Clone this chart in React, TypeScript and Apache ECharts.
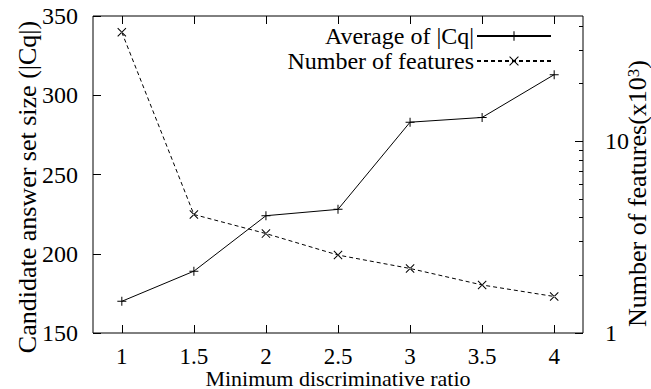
import React, { useEffect, useRef } from "react";
import * as echarts from "echarts";

const ratios = [1, 1.5, 2, 2.5, 3, 3.5, 4];
const avgCq = [170, 189, 224, 228, 283, 286, 313];
const numFeatures = [37, 4.15, 3.3, 2.55, 2.17, 1.78, 1.55];
const xTickValues = [1, 1.5, 2, 2.5, 3, 3.5, 4];
const rightMajorTicks = [1, 10];
const rightMinorTicks = [2, 3, 4, 5, 6, 7, 8, 9, 20, 30, 40];

const FONT = "Liberation Serif";
const PLUS = "path://M0,4H9V5H0Z M4,0H5V9H4Z";
const CROSS = "path://M0,0.7L0.7,0L9,8.3L8.3,9Z M9,0.7L8.3,0L0,8.3L0.7,9Z";

export default function App() {
  const ref = useRef<HTMLDivElement>(null);
  useEffect(() => {
    if (!ref.current) return;
    const chart = echarts.init(ref.current, null, { renderer: "svg" });
    const black = "#000";
    const lbl = { color: black, fontFamily: FONT, fontSize: 24 };
    const nameLbl = { color: black, fontFamily: FONT, fontSize: 26, lineHeight: 24 };
    chart.setOption({
      animation: false,
      backgroundColor: "#fff",
      textStyle: { fontFamily: FONT },
      grid: {
        left: 93,
        right: 68,
        top: 16,
        bottom: 56,
        show: true,
        containLabel: false,
        outerBoundsMode: "none",
        borderColor: black,
        borderWidth: 1,
        backgroundColor: "transparent",
      },
      legend: {
        right: 94,
        top: 19,
        orient: "vertical",
        align: "right",
        itemWidth: 74,
        itemHeight: 12,
        itemGap: 1,
        textStyle: { ...lbl, padding: [0, -2, 0, 0] },
        data: ["Average of |Cq|", "Number of features"],
      },
      xAxis: [
        {
          type: "value",
          min: 0.8,
          max: 4.2,
          position: "bottom",
          name: "Minimum discriminative ratio",
          nameLocation: "middle",
          nameGap: 35,
          nameMoveOverlap: false,
          nameTextStyle: { ...lbl, fontSize: 22, lineHeight: 21 },
          axisLine: { show: false },
          axisTick: { inside: true, length: 8, lineStyle: { color: black }, customValues: xTickValues },
          axisLabel: { ...lbl, fontSize: 23, lineHeight: 22, margin: 12, customValues: xTickValues },
          splitLine: { show: false },
        },
        {
          type: "value",
          min: 0.8,
          max: 4.2,
          position: "top",
          axisLine: { show: false },
          axisTick: { inside: true, length: 8, lineStyle: { color: black }, customValues: xTickValues },
          axisLabel: { show: false },
          splitLine: { show: false },
        },
      ],
      yAxis: [
        {
          type: "value",
          min: 150,
          max: 350,
          interval: 50,
          position: "left",
          name: "Candidate answer set size (|Cq|)",
          nameLocation: "middle",
          nameGap: 54,
          nameMoveOverlap: false,
          nameTextStyle: { ...nameLbl, padding: [0, 25, 0, 0] },
          axisLine: { show: false },
          axisTick: { inside: true, length: 8, lineStyle: { color: black } },
          axisLabel: { ...lbl, margin: 15 },
          splitLine: { show: false },
        },
        {
          type: "log",
          logBase: 10,
          min: 1,
          max: 45,
          position: "right",
          name: "Number of features(x10{sup|3})",
          nameLocation: "middle",
          nameRotate: 90,
          nameGap: 42,
          nameMoveOverlap: false,
          nameTextStyle: {
            ...nameLbl,
            padding: [0, 38, 0, 0],
            rich: { sup: { fontFamily: FONT, fontSize: 17, color: black, verticalAlign: "top", lineHeight: 24 } },
          },
          axisLine: { show: false },
          axisTick: { inside: true, length: 8, lineStyle: { color: black }, customValues: rightMajorTicks },
          axisLabel: { ...lbl, margin: 22, customValues: rightMajorTicks },
          splitLine: { show: false },
        },
        {
          type: "log",
          logBase: 10,
          min: 1,
          max: 45,
          position: "right",
          axisLine: { show: false },
          axisTick: { inside: true, length: 4, lineStyle: { color: black }, customValues: rightMinorTicks },
          axisLabel: { show: false },
          splitLine: { show: false },
        },
      ],
      series: [
        {
          name: "Average of |Cq|",
          type: "line",
          xAxisIndex: 0,
          yAxisIndex: 0,
          data: ratios.map((x, i) => [x, avgCq[i]]),
          symbol: PLUS,
          symbolSize: 9,
          showAllSymbol: true,
          lineStyle: { color: black, width: 1, type: "solid" },
          itemStyle: { color: black },
        },
        {
          name: "Number of features",
          type: "line",
          xAxisIndex: 0,
          yAxisIndex: 1,
          data: ratios.map((x, i) => [x, numFeatures[i]]),
          symbol: CROSS,
          symbolSize: 9,
          showAllSymbol: true,
          lineStyle: { color: black, width: 1, type: [4, 3] },
          itemStyle: { color: black },
        },
      ],
    });
    return () => chart.dispose();
  }, []);
  return (
    <div
      ref={ref}
      style={{ position: "fixed", left: 0, top: 0, width: 651, height: 389, background: "#fff" }}
    />
  );
}
